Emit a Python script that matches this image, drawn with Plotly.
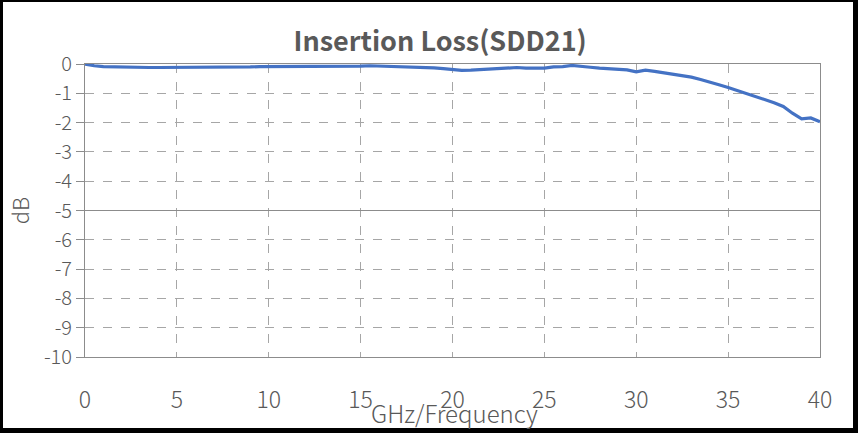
import plotly.graph_objects as go

freq_ghz = [i * 0.5 for i in range(81)]
loss_db = [
    0.00, -0.06, -0.09, -0.10, -0.11, -0.11, -0.12, -0.12, -0.12, -0.12,
    -0.12, -0.12, -0.11, -0.11, -0.11, -0.11, -0.10, -0.10, -0.10, -0.09,
    -0.09, -0.09, -0.08, -0.08, -0.08, -0.08, -0.07, -0.07, -0.07, -0.07,
    -0.07, -0.06, -0.07, -0.07, -0.08, -0.09, -0.10, -0.11, -0.13, -0.16,
    -0.20, -0.22, -0.21, -0.19, -0.18, -0.17, -0.15, -0.12, -0.14, -0.15,
    -0.14, -0.10, -0.09, -0.05, -0.07, -0.11, -0.14, -0.16, -0.18, -0.20,
    -0.27, -0.21, -0.25, -0.30, -0.35, -0.40, -0.45, -0.53, -0.61, -0.71,
    -0.80, -0.90, -1.00, -1.11, -1.21, -1.32, -1.45, -1.68, -1.87, -1.84,
    -1.97,
]
x_ticks = [0, 5, 10, 15, 20, 25, 30, 35, 40]
y_ticks = [0, -1, -2, -3, -4, -5, -6, -7, -8, -9, -10]

title_text = "Insertion Loss(SDD21)"
x_title = "GHz/Frequency"
y_title = "dB"

TEXT = "#595959"
AXIS = "#8c8c8c"
GRID = "#a6a6a6"
FONT = "Noto Sans CJK SC, Noto Sans, sans-serif"
x_tick_font = dict(family=FONT, size=23, color=TEXT, weight=300)
y_tick_font = dict(family=FONT, size=20, color=TEXT, weight=300)

fig = go.Figure()
fig.add_trace(go.Scatter(
    x=freq_ghz, y=loss_db, mode="lines",
    line=dict(color="#4472C4", width=3.2),
    showlegend=False, hoverinfo="skip",
))

fig.update_layout(
    width=858, height=433,
    margin=dict(l=85, r=38, t=64, b=76),
    paper_bgcolor="white", plot_bgcolor="white",
    title=dict(text="<b>" + title_text + "</b>", x=0.513, xanchor="center",
               y=0.905, yanchor="middle",
               font=dict(family=FONT, size=27, color=TEXT)),
    xaxis=dict(range=[0, 40], tickvals=x_ticks, ticktext=[str(v) for v in x_ticks],
               showgrid=True, gridcolor=GRID, griddash="dash", gridwidth=1,
               showline=True, linecolor=AXIS, linewidth=1, mirror=True,
               ticks="", zeroline=False, tickfont=x_tick_font, ticklabelstandoff=22,
               fixedrange=True),
    yaxis=dict(range=[-10, 0], tickvals=y_ticks, ticktext=[str(v) for v in y_ticks],
               showgrid=True, gridcolor=GRID, griddash="dash", gridwidth=1,
               showline=True, linecolor=AXIS, linewidth=1, mirror=True,
               ticks="outside", ticklen=8, tickcolor=AXIS, zeroline=False,
               tickfont=y_tick_font, fixedrange=True),
    annotations=[
        dict(text=x_title, xref="paper", yref="paper", x=0.503, y=-0.19,
             xanchor="center", yanchor="middle", showarrow=False,
             font=dict(family=FONT, size=24, color=TEXT, weight=300)),
        dict(text=y_title, xref="paper", yref="paper", x=-0.09, y=0.5,
             xanchor="center", yanchor="middle", showarrow=False, textangle=-90,
             font=dict(family=FONT, size=22, color=TEXT, weight=300)),
    ],
)

# solid mid line at -5 dB
fig.add_shape(type="line", xref="x", yref="y", x0=0, x1=40, y0=-5, y1=-5,
              line=dict(color=AXIS, width=1), layer="between")

# black frame around the chart (paper coords relative to plot area)
pw, ph = 858 - 85 - 38, 433 - 64 - 76
def px_x(p):
    return (p - 85) / pw
def px_y(p):
    return (433 - 76 - p) / ph
for (x0, y0, x1, y1) in [(0, 0, 858, 2), (0, 428, 858, 433), (0, 0, 3, 433), (853, 0, 858, 433)]:
    fig.add_shape(type="rect", xref="paper", yref="paper",
                  x0=px_x(x0), x1=px_x(x1), y0=px_y(y1), y1=px_y(y0),
                  fillcolor="black", line=dict(width=0), layer="above")

fig.write_html("out.html", config={"displayModeBar": False},
               post_script="document.body.style.margin='0px';")
